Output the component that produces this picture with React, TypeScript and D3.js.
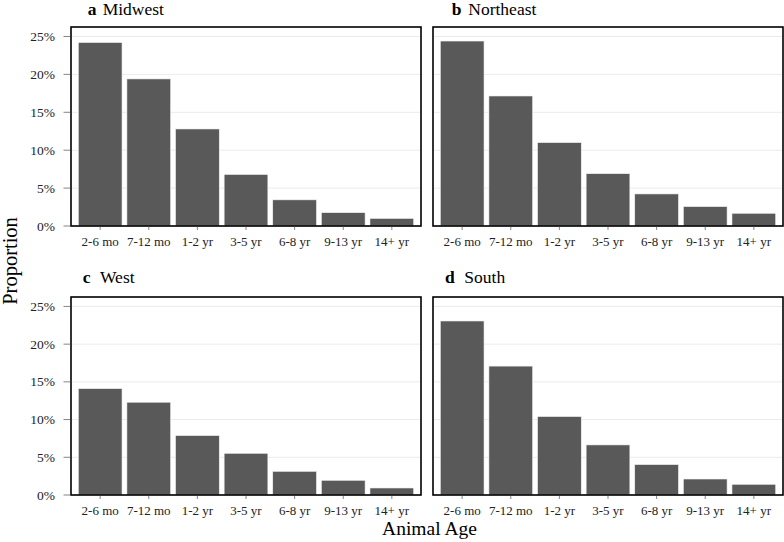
import React from "react";
import * as d3 from "d3";

const ageGroups = ["2-6 mo", "7-12 mo", "1-2 yr", "3-5 yr", "6-8 yr", "9-13 yr", "14+ yr"];
const regionNames = ["Midwest", "Northeast", "West", "South"];
const panelLetters = ["a", "b", "c", "d"];
const midwest = [24.2, 19.4, 12.8, 6.8, 3.45, 1.76, 1.0];
const northeast = [24.4, 17.15, 11.0, 6.9, 4.23, 2.56, 1.68];
const west = [14.1, 12.3, 7.88, 5.53, 3.14, 1.95, 0.93];
const south = [23.07, 17.09, 10.4, 6.64, 4.03, 2.12, 1.42];
const yTicks = [0, 5, 10, 15, 20, 25];
const seriesValues = [midwest, northeast, west, south];

const FONT = "'Liberation Serif', 'Times New Roman', serif";

const W = 784;
const H = 542;

const panelBoxes = [
  { x0: 71, x1: 421, y0: 27, y1: 226, lx: 87.7, tx: 102.7, ty: 14.5, showY: true },
  { x0: 433, x1: 783, y0: 27, y1: 226, lx: 451.7, tx: 468.3, ty: 15, showY: false },
  { x0: 71, x1: 421, y0: 297, y1: 495, lx: 82.7, tx: 100, ty: 283.3, showY: true },
  { x0: 433, x1: 783, y0: 297, y1: 495, lx: 445, tx: 464.3, ty: 283.3, showY: false },
];

function Panel({ idx }: { idx: number }) {
  const b = panelBoxes[idx];
  const values = seriesValues[idx];
  const x = d3
    .scaleBand<string>()
    .domain(ageGroups)
    .range([b.x0, b.x1])
    .paddingInner(0.1)
    .paddingOuter(0.15);
  const y = d3.scaleLinear().domain([0, 26.25]).range([b.y1, b.y0]);
  return (
    <g>
      <rect x={b.x0} y={b.y0} width={b.x1 - b.x0} height={b.y1 - b.y0} fill="white" />
      {yTicks.map((t) => (
        <line key={"g" + t} x1={b.x0} x2={b.x1} y1={y(t)} y2={y(t)} stroke="#ebebeb" strokeWidth={1} />
      ))}
      {values.map((v, i) => (
        <rect
          key={ageGroups[i]}
          x={x(ageGroups[i])!}
          y={y(v)}
          width={x.bandwidth()}
          height={y(0) - y(v)}
          fill="#595959"
          stroke="#f2f2f2"
          strokeWidth={0.6}
        />
      ))}
      <rect
        x={b.x0}
        y={b.y0}
        width={b.x1 - b.x0}
        height={b.y1 - b.y0}
        fill="none"
        stroke="black"
        strokeWidth={1.6}
      />
      {ageGroups.map((a) => {
        const cx = x(a)! + x.bandwidth() / 2;
        return (
          <g key={"xt" + a}>
            <line x1={cx} x2={cx} y1={b.y1 + 0.8} y2={b.y1 + 4} stroke="#666" strokeWidth={0.8} />
            <text x={cx} y={b.y1 + 19.5} textAnchor="middle" fontFamily={FONT} fontSize={13} fill="#222">
              {a}
            </text>
          </g>
        );
      })}
      {b.showY &&
        yTicks.map((t) => (
          <g key={"yt" + t}>
            <line x1={b.x0 - 7.5} x2={b.x0 - 0.8} y1={y(t)} y2={y(t)} stroke="#666" strokeWidth={0.8} />
            <text
              x={b.x0 - 16}
              y={y(t) + 4.6}
              textAnchor="end"
              fontFamily={FONT}
              fontSize={13.5}
              fill="#222"
            >
              {t + "%"}
            </text>
          </g>
        ))}
      <text x={b.lx} y={b.ty} fontFamily={FONT} fontSize={17.5} fontWeight="bold" fill="black">
        {panelLetters[idx]}
      </text>
      <text x={b.tx} y={b.ty} fontFamily={FONT} fontSize={17.5} fill="black">
        {regionNames[idx]}
      </text>
    </g>
  );
}

export default function App() {
  return (
    <svg
      width={W}
      height={H}
      viewBox={`0 0 ${W} ${H}`}
      style={{ position: "absolute", left: 0, top: 0, background: "white" }}
    >
      <rect x={0} y={0} width={W} height={H} fill="white" />
      {panelBoxes.map((_, i) => (
        <Panel key={i} idx={i} />
      ))}
      <text
        transform="translate(16.5,261) rotate(-90)"
        textAnchor="middle"
        fontFamily={FONT}
        fontSize={20.5}
        fill="black"
      >
        Proportion
      </text>
      <text x={429.5} y={535} textAnchor="middle" fontFamily={FONT} fontSize={19.5} fill="black">
        Animal Age
      </text>
    </svg>
  );
}
